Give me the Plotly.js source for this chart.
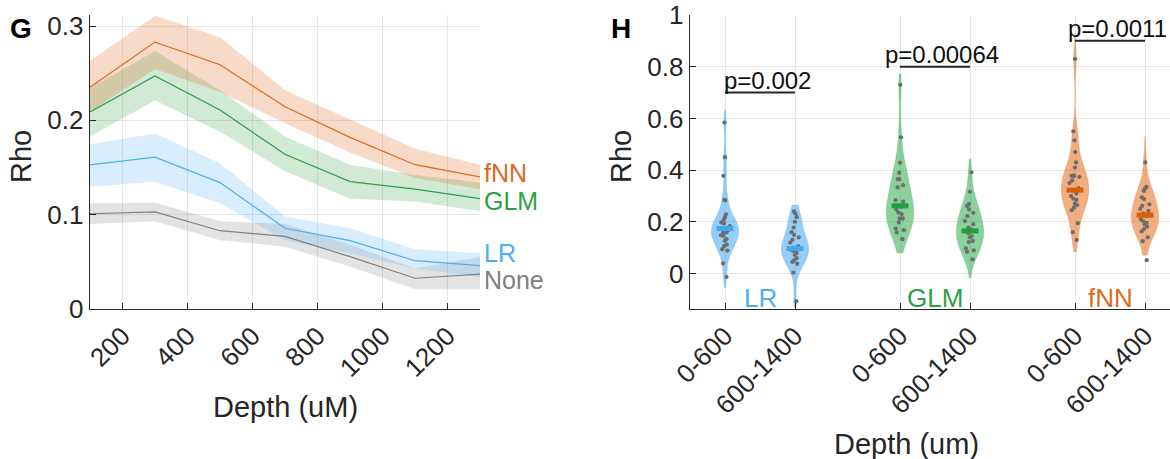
<!DOCTYPE html>
<html><head><meta charset="utf-8">
<script src="https://cdn.plot.ly/plotly-3.0.1.min.js"></script>
<style>html,body{margin:0;padding:0;overflow:hidden;background:#fff}</style>
</head><body><div id="chart" style="width:1170px;height:459px"></div>
<script>
// ---------- Panel G data ----------
const depth = [100, 300, 500, 700, 900, 1100, 1300];
const fnnMean  = [0.235, 0.283, 0.259, 0.2145, 0.182, 0.153, 0.140];
const fnnUpper = [0.263, 0.311, 0.288, 0.232, 0.201, 0.170, 0.153];
const fnnLower = [0.209, 0.2545, 0.230, 0.197, 0.166, 0.139, 0.127];
const glmMean  = [0.209, 0.247, 0.211, 0.164, 0.135, 0.127, 0.117];
const glmUpper = [0.234, 0.2736, 0.232, 0.183, 0.153, 0.142, 0.134];
const glmLower = [0.183, 0.221, 0.188, 0.146, 0.117, 0.114, 0.104];
const lrMean   = [0.1527, 0.161, 0.134, 0.0856, 0.0725, 0.0512, 0.046];
const lrUpper  = [0.1746, 0.186, 0.1545, 0.098, 0.0856, 0.0633, 0.059];
const lrLower  = [0.1297, 0.135, 0.112, 0.073, 0.059, 0.043, 0.034];
const noneMean  = [0.101, 0.103, 0.083, 0.077, 0.0555, 0.0326, 0.037];
const noneUpper = [0.112, 0.113, 0.093, 0.090, 0.068, 0.043, 0.055];
const noneLower = [0.090, 0.093, 0.073, 0.066, 0.045, 0.021, 0.021];
const seriesNames = ['None', 'LR', 'GLM', 'fNN'];
const depthTicks = [200, 400, 600, 800, 1000, 1200];

// ---------- Panel H data ----------
const groupTickLabels = ['0-600', '600-1400', '0-600', '600-1400', '0-600', '600-1400'];
const modelLabels = ['LR', 'GLM', 'fNN'];
const lrShallow = [0.584, 0.45, 0.378, 0.285, 0.283, 0.229, 0.218, 0.209, 0.198, 0.194, 0.183, 0.177, 0.172, 0.169, 0.159, 0.159, 0.148, 0.146, 0.133, 0.127, 0.112, 0.107, 0.094, 0.089, 0.039, -0.013];
const lrDeep = [0.24, 0.232, 0.218, 0.2, 0.178, 0.16, 0.15, 0.14, 0.13, 0.12, 0.105, 0.1, 0.095, 0.092, 0.088, 0.08, 0.072, 0.06, 0.052, 0.045, 0.038, 0.004, -0.107];
const glmShallow = [0.730, 0.527, 0.429, 0.390, 0.365, 0.365, 0.342, 0.333, 0.284, 0.278, 0.262, 0.258, 0.248, 0.236, 0.230, 0.213, 0.213, 0.198, 0.174, 0.168, 0.159, 0.133];
const glmDeep = [0.391, 0.316, 0.269, 0.261, 0.248, 0.235, 0.222, 0.203, 0.191, 0.178, 0.170, 0.164, 0.157, 0.145, 0.140, 0.126, 0.122, 0.097, 0.090, 0.084, 0.055];
const fnnShallow = [0.83, 0.55, 0.515, 0.47, 0.43, 0.41, 0.38, 0.378, 0.376, 0.374, 0.36, 0.35, 0.33, 0.32, 0.31, 0.30, 0.29, 0.285, 0.27, 0.265, 0.255, 0.245, 0.195, 0.16, 0.13];
const fnnDeep = [0.43, 0.335, 0.328, 0.32, 0.295, 0.288, 0.268, 0.262, 0.25, 0.242, 0.232, 0.222, 0.21, 0.202, 0.196, 0.19, 0.182, 0.172, 0.163, 0.14, 0.125, 0.052];
const violinCenters = [0.174, 0.097, 0.262, 0.165, 0.323, 0.226];
const violinSpans = [[-0.056, 0.633], [-0.13, 0.265], [0.08, 0.772], [-0.016, 0.442], [0.084, 0.93], [0.071, 0.53]];
const pValues = ['p=0.002', 'p=0.00064', 'p=0.0011'];
const bracketHeights = [0.70, 0.80, 0.90];

// ---------- styling ----------
const FONT = 'Liberation Sans, Arial, Helvetica, sans-serif';
const INK = '#262626';
const GRID = '#E6E6E6';
const lineCol = {None: '#808080', LR: '#4DAEF5', GLM: '#2E9F45', fNN: '#DE6A1E'};
const bandCol = {None: 'rgba(128,128,128,0.22)', LR: 'rgba(77,174,245,0.22)', GLM: 'rgba(46,159,69,0.22)', fNN: 'rgba(222,106,30,0.25)'};
const violinFill = ['rgba(77,174,245,0.6)', 'rgba(77,174,245,0.6)', 'rgba(46,170,75,0.55)', 'rgba(46,170,75,0.55)', 'rgba(230,120,45,0.6)', 'rgba(230,120,45,0.6)'];
const barCol = ['#3FA9F5', '#3FA9F5', '#1E9E3C', '#1E9E3C', '#D95F02', '#D95F02'];
const modelCol = ['#4DAEF5', '#2E9F45', '#DE6A1E'];
const positions = [1, 2, 3.5, 4.5, 6, 7];

const W = 1170, H = 459, T = 15, B = 150;
const ph = H - T - B;
const px = x => x / W;
const py = y => (H - B - y) / ph;

const traces = [];
const bands = {None: [noneMean, noneUpper, noneLower], LR: [lrMean, lrUpper, lrLower], GLM: [glmMean, glmUpper, glmLower], fNN: [fnnMean, fnnUpper, fnnLower]};
seriesNames.forEach(n => {
  const [m, u, l] = bands[n];
  traces.push({type: 'scatter', mode: 'lines', x: depth.concat(depth.slice().reverse()), y: u.concat(l.slice().reverse()),
    fill: 'toself', fillcolor: bandCol[n], line: {width: 0}, hoverinfo: 'skip', showlegend: false, xaxis: 'x', yaxis: 'y'});
});
seriesNames.forEach(n => {
  traces.push({type: 'scatter', mode: 'lines', x: depth, y: bands[n][0], line: {color: lineCol[n], width: 1.2},
    hoverinfo: 'skip', showlegend: false, xaxis: 'x', yaxis: 'y'});
});

const violinData = [lrShallow, lrDeep, glmShallow, glmDeep, fnnShallow, fnnDeep];
violinData.forEach((vals, i) => {
  traces.push({type: 'violin', x: vals.map(() => positions[i]), y: vals, xaxis: 'x2', yaxis: 'y2',
    width: 0.39, scalemode: 'width', fillcolor: violinFill[i], line: {color: violinFill[i], width: 0.5},
    points: 'all', pointpos: 0, jitter: 0.42, marker: {color: '#6E6E6E', size: 4.3},
    box: {visible: false}, meanline: {visible: false}, spanmode: 'manual', span: violinSpans[i],
    hoverinfo: 'skip', showlegend: false});
});
traces.push({type: 'scatter', mode: 'markers', x: positions, y: violinCenters, xaxis: 'x2', yaxis: 'y2',
  marker: {symbol: 'line-ew', size: 12, line: {width: 5, color: barCol}}, hoverinfo: 'skip', showlegend: false});

const axBase = {showline: true, linecolor: INK, linewidth: 1.3, ticks: 'inside', ticklen: 6, tickcolor: INK, tickwidth: 1,
  showgrid: true, gridcolor: GRID, gridwidth: 1, zeroline: false, tickfont: {family: FONT, size: 26, color: INK}, fixedrange: true};

const annotations = [];
const shapes = [];
const txt = (text, x, y, opts) => Object.assign({text, x, y, xref: 'paper', yref: 'paper', showarrow: false,
  font: {family: FONT, size: 29, color: INK}, xanchor: 'center', yanchor: 'middle'}, opts || {});
annotations.push(txt('Rho', px(21), py(157), {textangle: -90}));
annotations.push(txt('Rho', px(621), py(157), {textangle: -90}));
annotations.push(txt('Depth (uM)', px(285), py(407)));
annotations.push(txt('Depth (um)', px(906), py(444)));
annotations.push(txt('<b>G</b>', px(21), py(28), {font: {family: FONT, size: 28, color: '#000'}}));
annotations.push(txt('<b>H</b>', px(621), py(28), {font: {family: FONT, size: 28, color: '#000'}}));
const labelY = {fNN: 0.144, GLM: 0.115, LR: 0.059, None: 0.031};
seriesNames.forEach(n => {
  annotations.push({text: n, x: depth[depth.length - 1], y: labelY[n], xref: 'x', yref: 'y', xanchor: 'left', yanchor: 'middle',
    xshift: 2, showarrow: false, font: {family: FONT, size: 25, color: lineCol[n]}});
});
modelLabels.forEach((m, i) => {
  annotations.push({text: m, x: (positions[2 * i] + positions[2 * i + 1]) / 2, y: -0.096, xref: 'x2', yref: 'y2',
    xanchor: 'center', yanchor: 'middle', showarrow: false, font: {family: FONT, size: 26, color: modelCol[i]}});
  shapes.push({type: 'line', xref: 'x2', yref: 'y2', x0: positions[2 * i], x1: positions[2 * i + 1], y0: bracketHeights[i], y1: bracketHeights[i],
    line: {color: INK, width: 2}});
  annotations.push({text: pValues[i], x: (positions[2 * i] + positions[2 * i + 1]) / 2, y: bracketHeights[i], xref: 'x2', yref: 'y2',
    xanchor: 'center', yanchor: 'bottom', xshift: 7, yshift: -3, showarrow: false, font: {family: FONT, size: 24, color: '#111'}});
});

const layout = {
  width: W, height: H, margin: {l: 0, r: 0, t: T, b: B, pad: 0}, paper_bgcolor: '#fff', plot_bgcolor: '#fff',
  font: {family: FONT, color: INK}, showlegend: false, violinmode: 'overlay',
  xaxis: Object.assign({}, axBase, {domain: [90 / W, 480 / W], range: [100, 1300], tickvals: depthTicks, ticktext: depthTicks.map(String), tickangle: -45, anchor: 'y'}),
  yaxis: Object.assign({}, axBase, {domain: [0, 1], range: [0, 0.3117], tickvals: [0, 0.1, 0.2, 0.3], ticktext: ['0', '0.1', '0.2', '0.3'], anchor: 'x'}),
  xaxis2: Object.assign({}, axBase, {domain: [690 / W, 1], range: [0.5, 7.357], tickvals: positions, ticktext: groupTickLabels, tickangle: -45, anchor: 'y2'}),
  yaxis2: Object.assign({}, axBase, {domain: [0, 1], range: [-0.137, 1.0], tickvals: [0, 0.2, 0.4, 0.6, 0.8, 1], ticktext: ['0', '0.2', '0.4', '0.6', '0.8', '1'], anchor: 'x2'}),
  annotations, shapes
};
Plotly.newPlot('chart', traces, layout, {displayModeBar: false, staticPlot: true});
</script></body></html>
